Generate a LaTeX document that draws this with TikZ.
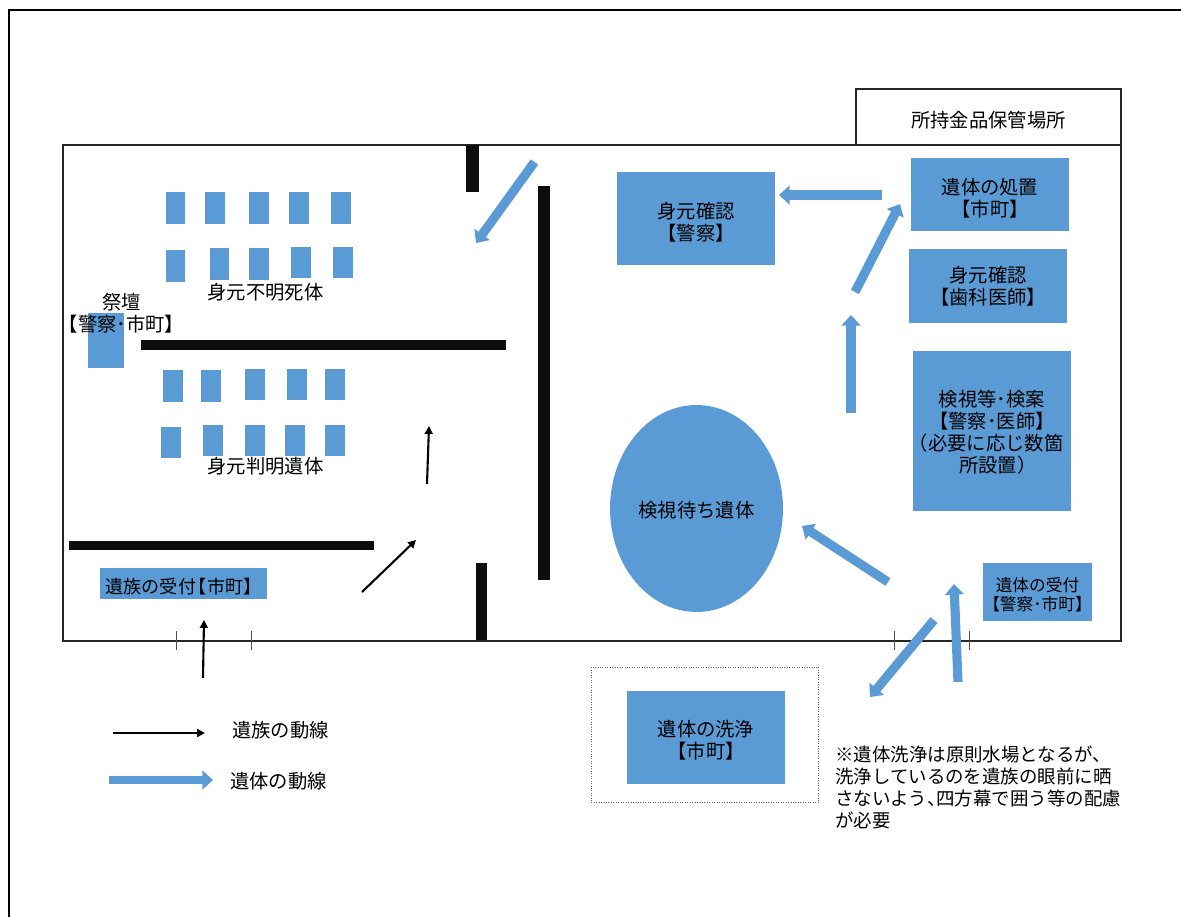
\documentclass[tikz,border=0pt]{standalone}
\usepackage{fontspec}
\setmainfont{Noto Sans CJK JP}
\usepackage{xcolor}
\usetikzlibrary{arrows.meta,shapes.geometric}
\definecolor{bodyblue}{HTML}{5B9BD5}
\definecolor{wallblack}{HTML}{0D0D0D}
\newcommand{\lowtext}[1]{\rule{0pt}{#1pt}}
\begin{document}
\begin{tikzpicture}[x=0.02cm,y=-0.02cm,
    bluebox/.style={fill=bodyblue,inner sep=0pt,align=center,font=\fontsize{11pt}{12.5pt}\selectfont},
    tablebox/.style={fill=bodyblue,inner sep=0pt,minimum width=0.4cm,minimum height=0.63cm},
    plaintext/.style={inner sep=0pt,align=center,font=\fontsize{11pt}{12.2pt}\selectfont},
    bodyflow/.style={draw=bodyblue,line width=5.2pt,-{Triangle[length=6pt,width=10.5pt]}},
    familyflow/.style={draw=black,line width=1.2pt,-{Triangle[length=4.5pt,width=4.5pt]}},
    wall/.style={fill=wallblack},
    doortick/.style={draw=black!70,line width=0.5pt}]
    \useasboundingbox (0,0) rectangle (1181,917);
    \draw[line width=0.9pt] (9,917) -- (9,10) -- (1181,10);
    \draw[draw=black!85,line width=0.9pt] (63,145) rectangle (1121,641);
    \node[draw=black!85,line width=0.9pt,plaintext,minimum width=5.3cm,minimum height=1.12cm] (storage) at (988.5,117) {\lowtext{12.5}所持金品保管場所};

    \fill[wall] (466,145) rectangle (479,192);
    \fill[wall] (537.5,186) rectangle (550,580);
    \fill[wall] (141,340) rectangle (506,350);
    \fill[wall] (69,541) rectangle (374,550);
    \fill[wall] (476,563) rectangle (487,640);

    \draw[doortick] (176,631) -- (176,650);
    \draw[doortick] (251,631) -- (251,650);
    \draw[doortick] (894,631) -- (894,650);
    \draw[doortick] (969,631) -- (969,650);

    \node[tablebox] (t1) at (175.5,208) {};
    \node[tablebox] (t2) at (215,208) {};
    \node[tablebox] (t3) at (259,208) {};
    \node[tablebox] (t4) at (299,208) {};
    \node[tablebox] (t5) at (341,208) {};
    \node[tablebox] (t6) at (175.5,266) {};
    \node[tablebox] (t7) at (219.5,264) {};
    \node[tablebox] (t8) at (259,264) {};
    \node[tablebox] (t9) at (301,262.5) {};
    \node[tablebox] (t10) at (343,262.5) {};
    \node[tablebox] (t11) at (173,386) {};
    \node[tablebox] (t12) at (211,386) {};
    \node[tablebox] (t13) at (255,384.5) {};
    \node[tablebox] (t14) at (297,384.5) {};
    \node[tablebox] (t15) at (335,384.5) {};
    \node[tablebox] (t16) at (171,442.5) {};
    \node[tablebox] (t17) at (213,440.5) {};
    \node[tablebox] (t18) at (255,440.5) {};
    \node[tablebox] (t19) at (295,440.5) {};
    \node[tablebox] (t20) at (335,440.5) {};

    \node[fill=bodyblue,minimum width=0.72cm,minimum height=1.1cm,inner sep=0pt] (altar) at (106,340.5) {};
    \node[plaintext] (altartext) at (121.5,313) {祭壇\\【警察･市町】};
    \node[plaintext] (unknown) at (265.5,292) {身元不明死体};
    \node[plaintext] (known) at (265.5,466) {身元判明遺体};
    \node[bluebox,minimum width=3.34cm,minimum height=0.62cm,font=\fontsize{10.3pt}{12pt}\selectfont] (family) at (183.5,583.5) {\lowtext{12}遺族の受付\kern-0.4em【市町】};

    \node[bluebox,minimum width=3.16cm,minimum height=1.86cm] (police) at (696,218.5) {\lowtext{13}身元確認\\【警察】};
    \node[bluebox,minimum width=3.16cm,minimum height=1.46cm] (treat) at (990,194.5) {\lowtext{13}遺体の処置\\【市町】};
    \node[bluebox,minimum width=3.16cm,minimum height=1.48cm] (dental) at (988,286) {身元確認\\【歯科医師】};
    \node[bluebox,minimum width=3.16cm,minimum height=3.2cm] (exam) at (992,431) {\lowtext{11}検視等･検案\\【警察･医師】\\\kern-0.6em（必要に応じ数箇\\所設置）\kern-0.6em};
    \node[bluebox,ellipse,minimum width=3.46cm,minimum height=4.14cm] (wait) at (696.5,508.5) {\lowtext{11}検視待ち遺体};
    \node[bluebox,minimum width=2.14cm,minimum height=1.16cm,font=\fontsize{9.5pt}{10.8pt}\selectfont] (reception) at (1037.5,592) {\lowtext{11.5}遺体の受付\\【警察･市町】};

    \node[draw=black!60,densely dotted,line width=0.4pt,inner sep=0pt,minimum width=4.55cm,minimum height=2.7cm] (washarea) at (705,734.5) {};
    \node[bluebox,minimum width=3.17cm,minimum height=1.86cm] (wash) at (706,737.5) {\lowtext{12}遺体の洗浄\\【市町】};
    \node[anchor=north west,inner sep=0pt,align=left,font=\fontsize{10.5pt}{12.4pt}\selectfont] (note) at (835,746) {※遺体洗浄は原則水場となるが、\\洗浄しているのを遺族の眼前に晒\\さないよう、\kern-0.5em四方幕で囲う等の配慮\\が必要};

    \coordinate (a1) at (534.5,162);
    \coordinate (a2) at (476,243);
    \coordinate (b1) at (881.5,195);
    \coordinate (b2) at (779,195);
    \coordinate (c1) at (855,292);
    \coordinate (c2) at (900,204);
    \coordinate (d1) at (851,413);
    \coordinate (d2) at (851,315);
    \coordinate (e1) at (888,582);
    \coordinate (e2) at (802,526);
    \coordinate (f1) at (934,620);
    \coordinate (f2) at (870,697);
    \coordinate (g1) at (958,682);
    \coordinate (g2) at (954,584);
    \coordinate (h1) at (109,780);
    \coordinate (h2) at (213,780);
    \draw[bodyflow] (a1) -- (a2);
    \draw[bodyflow] (b1) -- (b2);
    \draw[bodyflow] (c1) -- (c2);
    \draw[bodyflow] (d1) -- (d2);
    \draw[bodyflow] (e1) -- (e2);
    \draw[bodyflow] (f1) -- (f2);
    \draw[bodyflow] (g1) -- (g2);
    \draw[bodyflow,line width=4.2pt] (h1) -- (h2);

    \coordinate (p1) at (203,678);
    \coordinate (p2) at (204,620);
    \coordinate (q1) at (362,592);
    \coordinate (q2) at (416,540);
    \coordinate (r1) at (427,484);
    \coordinate (r2) at (429,426);
    \coordinate (s1) at (113,733);
    \coordinate (s2) at (205,733);
    \draw[familyflow] (p1) -- (p2);
    \draw[familyflow] (q1) -- (q2);
    \draw[familyflow] (r1) -- (r2);
    \draw[familyflow] (s1) -- (s2);

    \node[plaintext] (familyline) at (280.5,730) {遺族の動線};
    \node[plaintext] (bodyline) at (278.5,781) {遺体の動線};
\end{tikzpicture}
\end{document}
